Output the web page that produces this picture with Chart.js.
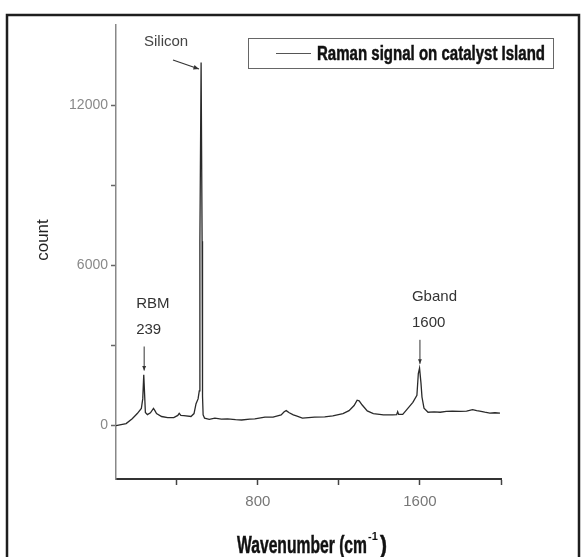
<!DOCTYPE html>
<html>
<head>
    <title>Raman spectrum on catalyst island</title>
    <script src="https://cdn.jsdelivr.net/npm/chart.js"></script>
    <style>
        body { margin: 0; background: #fff; }
        #wrap { position: absolute; left: 0; top: 0; width: 582px; height: 557px; }
    </style>
</head>
<body>
<div id="wrap">
    <canvas id="ramanChart" width="582" height="557"></canvas>
</div>

<script>
// spectrum (wavenumber in cm-1, count)
const wavenumber = [100, 150, 180, 205, 225, 232, 237, 241, 245, 255, 270, 285, 292, 300, 325, 355, 385, 405, 412, 420,
    435, 470, 485, 495, 505, 511, 514, 520, 525, 527, 530, 537, 560, 588, 620, 650, 690, 720, 760, 785,
    835, 875, 915, 930, 940, 955, 975, 990, 1020, 1050, 1080, 1130, 1170, 1220, 1250, 1275, 1290, 1300, 1315, 1340,
    1370, 1420, 1465, 1485, 1490, 1495, 1515, 1535, 1565, 1585, 1592, 1598, 1605, 1610, 1620, 1640, 1670, 1700, 1730, 1760,
    1800, 1830, 1860, 1880, 1895, 1920, 1945, 1970, 1995];
const counts = [0, 75, 260, 450, 640, 1000, 1900, 1200, 490, 410, 480, 640, 560, 450, 340, 300, 300, 380, 460, 380,
    375, 340, 450, 820, 1000, 1300, 6900, 13600, 6900, 1100, 400, 280, 230, 280, 240, 250, 220, 210, 240, 250,
    320, 320, 400, 520, 560, 480, 400, 360, 280, 300, 320, 330, 360, 450, 560, 750, 950, 930, 770, 550,
    450, 400, 400, 410, 520, 420, 420, 600, 870, 1130, 1950, 2150, 1600, 1070, 650, 500, 510, 500, 530, 540,
    530, 540, 600, 560, 540, 500, 470, 480, 470];

const seriesLabel = 'Raman signal on catalyst Island';

const xTicks = [400, 800, 1200, 1600, 2000];
const xLabels = [800, 1600];
const yTicks = [0, 3000, 6000, 9000, 12000];
const yLabels = [0, 6000, 12000];

// peak labels: text lines and the wavenumber / count the arrow points at
const peakNotes = [
    { lines: ['RBM', '239'], x: 239, y: 1950 },
    { lines: ['Gband', '1600'], x: 1600, y: 2200 }
];

const points = wavenumber.map((w, i) => ({ x: w, y: counts[i] }));

function arrow(ctx, x1, y1, x2, y2, size) {
    ctx.beginPath();
    ctx.moveTo(x1, y1);
    ctx.lineTo(x2, y2);
    ctx.stroke();
    const a = Math.atan2(y2 - y1, x2 - x1);
    ctx.beginPath();
    ctx.moveTo(x2, y2);
    ctx.lineTo(x2 - size * Math.cos(a - 0.4), y2 - size * Math.sin(a - 0.4));
    ctx.lineTo(x2 - size * Math.cos(a + 0.4), y2 - size * Math.sin(a + 0.4));
    ctx.closePath();
    ctx.fill();
}

// squeezed heavy text, like the black condensed face of the original
function narrowText(ctx, text, x, y, size, width) {
    ctx.save();
    ctx.font = 'bold ' + size + 'px "Liberation Sans Narrow", "Liberation Sans", Arial, sans-serif';
    const w = ctx.measureText(text).width;
    ctx.translate(x, y);
    ctx.scale(width / w, 1);
    ctx.lineWidth = 0.5;
    ctx.strokeStyle = ctx.fillStyle;
    ctx.fillText(text, 0, 0);
    ctx.strokeText(text, 0, 0);
    ctx.restore();
    return w;
}

const decorations = {
    id: 'decorations',
    afterDraw(chart) {
        const ctx = chart.ctx;
        const xs = chart.scales.x, ys = chart.scales.y;
        ctx.save();

        // outer frame
        ctx.strokeStyle = '#1e1e1e';
        ctx.lineWidth = 2.5;
        ctx.beginPath();
        ctx.moveTo(7, 600);
        ctx.lineTo(7, 15);
        ctx.lineTo(579, 15);
        ctx.lineTo(579, 600);
        ctx.stroke();

        // legend
        ctx.lineWidth = 1;
        ctx.strokeStyle = '#666';
        ctx.strokeRect(248.5, 38.5, 305, 30);
        ctx.strokeStyle = '#555';
        ctx.beginPath();
        ctx.moveTo(276, 53.5);
        ctx.lineTo(311, 53.5);
        ctx.stroke();
        ctx.fillStyle = '#111';
        ctx.textBaseline = 'middle';
        ctx.textAlign = 'left';
        narrowText(ctx, seriesLabel, 317, 54, 20, 228);

        // axis titles
        narrowText(ctx, 'Wavenumber (cm', 237, 546, 24, 130);
        ctx.font = 'bold 11px "Liberation Sans Narrow", "Liberation Sans", sans-serif';
        ctx.fillText('-1', 368, 537);
        narrowText(ctx, ')', 380, 546, 24, 7);

        ctx.save();
        ctx.translate(43, 240);
        ctx.rotate(-Math.PI / 2);
        ctx.textAlign = 'center';
        ctx.font = '17px "Liberation Sans", Arial, sans-serif';
        ctx.fillStyle = '#222';
        ctx.fillText('count', 0, 0);
        ctx.restore();

        // silicon note
        ctx.font = '15px "Liberation Sans", Arial, sans-serif';
        ctx.fillStyle = '#444';
        ctx.textAlign = 'left';
        ctx.fillText('Silicon', 144, 42);
        ctx.strokeStyle = '#333';
        ctx.fillStyle = '#333';
        ctx.lineWidth = 1.2;
        arrow(ctx, 173, 60, 199, 69, 6);

        // RBM and G band notes
        peakNotes.forEach(n => {
            const px = xs.getPixelForValue(n.x);
            const py = ys.getPixelForValue(n.y);
            ctx.fillStyle = '#333';
            ctx.font = '15px "Liberation Sans", Arial, sans-serif';
            ctx.textAlign = 'left';
            ctx.fillText(n.lines[0], px - 8, py - 70);
            ctx.fillText(n.lines[1], px - 8, py - 44);
            ctx.lineWidth = 1;
            arrow(ctx, px, py - 27, px, py - 3, 5);
        });

        ctx.restore();
    }
};

new Chart(document.getElementById('ramanChart').getContext('2d'), {
    type: 'line',
    data: {
        datasets: [{
            label: seriesLabel,
            data: points,
            borderColor: '#2a2a2a',
            borderWidth: 1.3,
            pointRadius: 0,
            tension: 0,
            fill: false
        }]
    },
    options: {
        responsive: false,
        animation: false,
        layout: { padding: { left: 0, top: 25, right: 81, bottom: 0 } },
        plugins: {
            legend: { display: false },
            tooltip: { enabled: false }
        },
        scales: {
            x: {
                type: 'linear',
                min: 100,
                max: 2000,
                afterFit: s => { s.height = 78; },
                afterBuildTicks: s => { s.ticks = xTicks.map(v => ({ value: v })); },
                grid: { drawOnChartArea: false, tickLength: 6, color: '#444', tickWidth: 1.5 },
                border: { color: '#333', width: 2 },
                ticks: {
                    padding: 8,
                    maxRotation: 0,
                    autoSkip: false,
                    color: '#777',
                    font: { family: '"Liberation Sans Narrow", "Liberation Sans", sans-serif', size: 15 },
                    callback: v => xLabels.includes(v) ? String(v) : ''
                }
            },
            y: {
                min: -2000,
                max: 15000,
                afterFit: s => { s.width = 116; },
                afterBuildTicks: s => { s.ticks = yTicks.map(v => ({ value: v })); },
                grid: { drawOnChartArea: false, tickLength: 5, color: '#666', tickWidth: 1.5 },
                border: { color: '#888', width: 1.5 },
                ticks: {
                    padding: 3,
                    autoSkip: false,
                    color: '#888',
                    font: { family: '"Liberation Sans Narrow", "Liberation Sans", sans-serif', size: 14 },
                    callback: v => yLabels.includes(v) ? String(v) : ''
                }
            }
        }
    },
    plugins: [decorations]
});
</script>
</body>
</html>
